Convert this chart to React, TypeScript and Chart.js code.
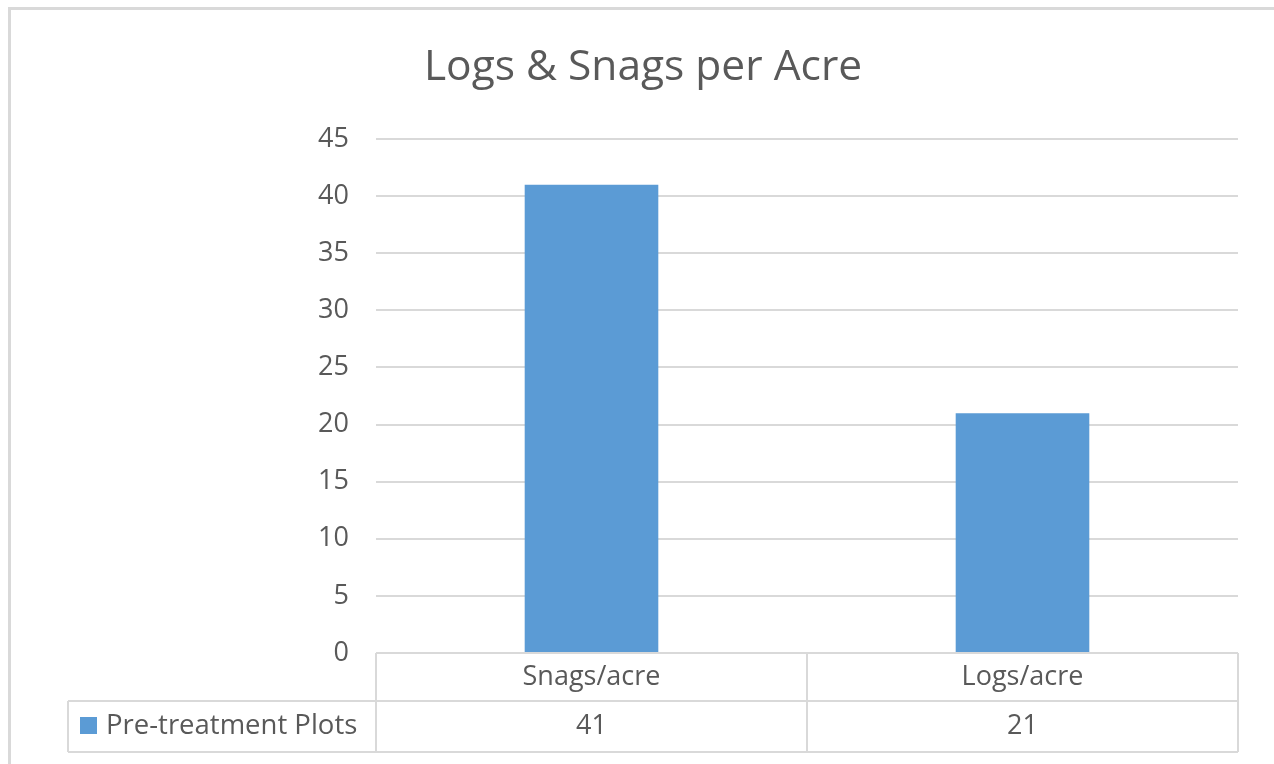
import React, { useEffect, useRef } from "react";
import { Chart, registerables } from "chart.js";

Chart.register(...registerables);

const TITLE = "Logs & Snags per Acre";
const CATEGORIES = ["Snags/acre", "Logs/acre"];
const SERIES_NAME = "Pre-treatment Plots";
const SERIES_VALUES = [41, 21];
const Y_MIN = 0;
const Y_MAX = 45;
const Y_STEP = 5;

const BAR_COLOR = "#5b9bd5";
const TEXT_COLOR = "#595959";
const LINE_COLOR = "#d9d9d9";
const FONT = "'Open Sans', 'Noto Sans', sans-serif";

const decorPlugin = {
  id: "decor",
  beforeDraw(chart: any) {
    const { ctx, width, height } = chart;
    ctx.save();
    ctx.fillStyle = "#ffffff";
    ctx.fillRect(0, 0, width, height);
    // outer chart border
    ctx.strokeStyle = LINE_COLOR;
    ctx.lineWidth = 3;
    ctx.beginPath();
    ctx.moveTo(9.5, height + 5);
    ctx.lineTo(9.5, 8.5);
    ctx.lineTo(width + 5, 8.5);
    ctx.stroke();
    // title
    ctx.fillStyle = TEXT_COLOR;
    ctx.font = `42.5px ${FONT}`;
    ctx.textAlign = "center";
    ctx.textBaseline = "middle";
    ctx.fillText(TITLE, 643, 68);
    ctx.restore();
  },
  afterDraw(chart: any) {
    const { ctx, chartArea } = chart;
    const x = chart.scales.x;
    const left = chartArea.left;
    const right = chartArea.right;
    const top = chartArea.bottom;
    const rowH = 48;
    const row2 = top + rowH;
    const bottom = row2 + 51;
    const legendLeft = 68;
    ctx.save();
    ctx.strokeStyle = LINE_COLOR;
    ctx.lineWidth = 2;
    ctx.beginPath();
    ctx.moveTo(left, top);
    ctx.lineTo(right, top);
    ctx.moveTo(legendLeft, row2);
    ctx.lineTo(right, row2);
    ctx.moveTo(legendLeft, bottom);
    ctx.lineTo(right, bottom);
    ctx.moveTo(legendLeft, row2);
    ctx.lineTo(legendLeft, bottom);
    const n = CATEGORIES.length;
    const catW = (right - left) / n;
    for (let i = 0; i <= n; i++) {
      const vx = left + catW * i;
      ctx.moveTo(vx, top);
      ctx.lineTo(vx, bottom);
    }
    ctx.stroke();

    ctx.fillStyle = TEXT_COLOR;
    ctx.font = `27px ${FONT}`;
    ctx.textBaseline = "middle";
    ctx.textAlign = "center";
    CATEGORIES.forEach((c, i) => {
      const cx = x.getPixelForValue(i);
      ctx.fillText(c, cx, top + rowH / 2);
      ctx.fillText(String(SERIES_VALUES[i]), cx, row2 + 51 / 2);
    });
    // legend key
    ctx.fillStyle = BAR_COLOR;
    ctx.fillRect(80, row2 + 16, 17, 17);
    ctx.fillStyle = TEXT_COLOR;
    ctx.textAlign = "left";
    ctx.font = `27.5px ${FONT}`;
    ctx.fillText(SERIES_NAME, 106, row2 + 51 / 2);
    ctx.restore();
  },
};

export default function App() {
  const ref = useRef<HTMLCanvasElement | null>(null);
  useEffect(() => {
    document.body.style.margin = "0";
    const chart = new Chart(ref.current as HTMLCanvasElement, {
      type: "bar",
      data: {
        labels: CATEGORIES,
        datasets: [
          {
            label: SERIES_NAME,
            data: SERIES_VALUES,
            backgroundColor: BAR_COLOR,
            borderWidth: 0,
            categoryPercentage: 0.62,
            barPercentage: 0.5,
          },
        ],
      },
      options: {
        animation: false,
        responsive: false,
        maintainAspectRatio: false,
        layout: { padding: { left: 0, right: 36, top: 139, bottom: 111 } },
        plugins: {
          legend: { display: false },
          title: { display: false },
          tooltip: { enabled: false },
        },
        scales: {
          x: { display: false },
          y: {
            min: Y_MIN,
            max: Y_MAX,
            ticks: {
              stepSize: Y_STEP,
              color: TEXT_COLOR,
              padding: 27,
              font: { family: FONT, size: 27 },
            },
            grid: { color: LINE_COLOR, lineWidth: 2, drawTicks: false },
            border: { display: false },
            afterFit: (scale: any) => {
              scale.width = 376;
            },
          },
        },
      },
      plugins: [decorPlugin],
    });
    return () => chart.destroy();
  }, []);
  return (
    <div style={{ position: "absolute", left: 0, top: 0, width: 1274, height: 764 }}>
      <canvas ref={ref} width={1274} height={764} style={{ display: "block" }} />
    </div>
  );
}
